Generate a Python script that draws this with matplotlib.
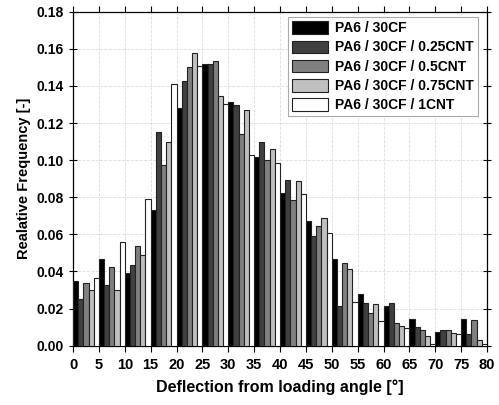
import numpy as np
import matplotlib
matplotlib.use("Agg")
import matplotlib.pyplot as plt

plt.rcParams['font.family'] = ['Liberation Sans', 'DejaVu Sans']
plt.rcParams['font.weight'] = 'bold'

# bin starts [deg]
bins = np.arange(0, 80, 5)

labels = ["PA6 / 30CF", "PA6 / 30CF / 0.25CNT", "PA6 / 30CF / 0.5CNT",
          "PA6 / 30CF / 0.75CNT", "PA6 / 30CF / 1CNT"]

cf = [0.0349, 0.0469, 0.0390, 0.0730, 0.1280, 0.1518, 0.1315, 0.1019,
      0.0825, 0.0671, 0.0468, 0.0280, 0.0212, 0.0146, 0.0076, 0.0144]
cnt025 = [0.0250, 0.0326, 0.0435, 0.1152, 0.1429, 0.1520, 0.1299, 0.1098,
          0.0894, 0.0591, 0.0212, 0.0231, 0.0232, 0.0103, 0.0083, 0.0063]
cnt05 = [0.0336, 0.0426, 0.0537, 0.0973, 0.1500, 0.1535, 0.1139, 0.0999,
         0.0784, 0.0645, 0.0446, 0.0175, 0.0120, 0.0084, 0.0083, 0.0137]
cnt075 = [0.0300, 0.0300, 0.0487, 0.1100, 0.1576, 0.1347, 0.1270, 0.1060,
          0.0890, 0.0688, 0.0412, 0.0223, 0.0108, 0.0050, 0.0070, 0.0029]
cnt1 = [0.0365, 0.0560, 0.0790, 0.1409, 0.1510, 0.1300, 0.1027, 0.0983,
        0.0815, 0.0608, 0.0237, 0.0135, 0.0098, 0.0010, 0.0061, 0.0010]

series = [cf, cnt025, cnt05, cnt075, cnt1]
colors = ["#000000", "#404040", "#808080", "#c0c0c0", "#ffffff"]

fig = plt.figure(figsize=(4.99, 4.05), dpi=100)
ax = fig.add_axes([73/499, 1 - 345.7/405, 414/499, 334/405])

for i, (vals, c, lab) in enumerate(zip(series, colors, labels)):
    ax.bar(bins + i, vals, width=1, align='edge', color=c,
           edgecolor='#222222', linewidth=0.8, label=lab, zorder=3)

ax.set_xlim(0, 80)
ax.set_ylim(0, 0.18)
ax.set_xticks(np.arange(0, 81, 5))
ax.set_yticks(np.arange(0, 0.181, 0.02))
ax.set_yticklabels([f"{v:.2f}" for v in np.arange(0, 0.181, 0.02)])
ax.grid(True, color='#dddddd', linestyle='--', linewidth=0.6, zorder=0)
ax.tick_params(axis='both', direction='out', length=4,
               width=0.8, top=True, right=True)
ax.tick_params(axis='x', labelsize=10.5, pad=5)
ax.tick_params(axis='y', direction='inout', length=6, labelsize=10)
for s in ax.spines.values():
    s.set_linewidth(0.9)

ax.set_xlabel("Deflection from loading angle [°]", fontsize=11.5,
              fontweight='bold', labelpad=5)
ax.set_ylabel("Realative Frequency [-]", fontsize=10.5, fontweight='bold')

leg = ax.legend(loc='upper right', bbox_to_anchor=(0.978, 0.984),
                borderaxespad=0, fontsize=10, handlelength=2.6,
                handleheight=1.0, labelspacing=0.38, borderpad=0.3,
                handletextpad=0.5, fancybox=False, framealpha=1,
                edgecolor='#aaaaaa')
leg.get_frame().set_linewidth(0.8)

fig.savefig("out.png", dpi=100)
